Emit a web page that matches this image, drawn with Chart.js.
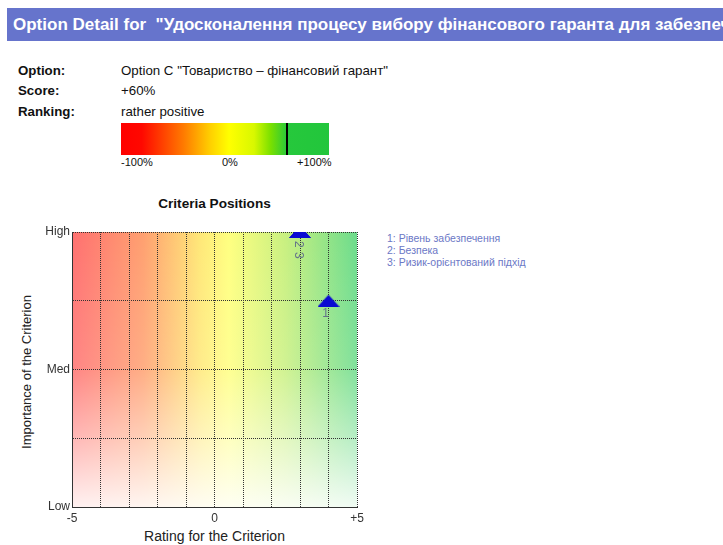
<!DOCTYPE html>
<html>
<head>
<meta charset="utf-8">
<script src="https://cdn.jsdelivr.net/npm/chart.js@4/dist/chart.umd.min.js"></script>
<style>
  html, body { margin:0; padding:0; background:#fff; width:723px; height:545px; overflow:hidden; font-family:"Liberation Sans", Arial, sans-serif; }
  .hdr { position:absolute; left:7px; top:8px; width:730px; height:33px; background:#6674cc; color:#fff; font-weight:bold; font-size:17px; line-height:33px; padding-left:6px; white-space:nowrap; overflow:hidden; box-sizing:border-box; }
  .lbl { position:absolute; left:18px; font-weight:bold; font-size:13.3px; color:#111; }
  .val { position:absolute; left:121px; font-size:13.3px; color:#111; white-space:nowrap; }
  .bar { position:absolute; left:121px; top:123px; width:208px; height:32px;
         background:linear-gradient(to right,#ff0000 0%,#ff0800 10%,#ff7a00 30%,#ffd000 43%,#ffff00 52%,#d8f800 64%,#7ae000 72%,#26c83c 80%,#22c63c 100%); }
  .mark { position:absolute; left:286px; top:123px; width:2px; height:32px; background:#000; }
  .pct { position:absolute; top:156px; font-size:11px; color:#111; }
  .ttl { position:absolute; left:72px; width:285px; top:196px; text-align:center; font-weight:bold; font-size:13.6px; color:#111; }
  .xt { position:absolute; left:72px; width:285px; top:528px; text-align:center; font-size:14px; color:#222; }
  .yt { position:absolute; left:26px; top:372px; font-size:13px; color:#222; white-space:nowrap; transform:translate(-50%,-50%) rotate(-90deg); }
  .leg { position:absolute; left:387px; font-size:10.5px; color:#6b78c6; white-space:nowrap; }
  #wrap { position:absolute; left:0; top:185px; width:380px; height:360px; }
</style>
</head>
<body>
<div class="hdr">Option Detail for &nbsp;"Удосконалення процесу вибору фінансового гаранта для забезпечення</div>
<div class="lbl" style="top:63px">Option:</div>
<div class="val" style="top:63px">Option C "Товариство – фінансовий гарант"</div>
<div class="lbl" style="top:83px">Score:</div>
<div class="val" style="top:83px">+60%</div>
<div class="lbl" style="top:104px">Ranking:</div>
<div class="val" style="top:104px">rather positive</div>
<div class="bar"></div>
<div class="mark"></div>
<div class="pct" style="left:121px">-100%</div>
<div class="pct" style="left:222px">0%</div>
<div class="pct" style="left:297px">+100%</div>
<div class="ttl">Criteria Positions</div>
<div class="yt">Importance of the Criterion</div>
<div class="xt">Rating for the Criterion</div>
<div class="leg" style="top:232px">1: Рівень забезпечення</div>
<div class="leg" style="top:244px">2: Безпека</div>
<div class="leg" style="top:256px">3: Ризик-орієнтований підхід</div>
<div id="wrap"><canvas id="c" width="380" height="360"></canvas></div>
<script>
// ---- data ----
const criteriaNames = ["Рівень забезпечення", "Безпека", "Ризик-орієнтований підхід"];
const criteriaIds = [1, 2, 3];
const ratings = [4, 3, 3];          // Rating for the Criterion (-5..+5)
const importance = [75, 100, 100];  // Importance (Low=0, Med=50, High=100)
const yTickLabels = {0: "Low", 50: "Med", 100: "High"};
const xTickLabels = {"-5": "-5", "0": "0", "5": "+5"};

// flat triangle marker
const tri = document.createElement('canvas');
tri.width = 22; tri.height = 12;
(function(){ const g = tri.getContext('2d'); g.fillStyle = '#0a0ad2';
  g.beginPath(); g.moveTo(11,0); g.lineTo(22,12); g.lineTo(0,12); g.closePath(); g.fill(); })();

const points = ratings.map((r,i) => ({x:r, y:importance[i], id:criteriaIds[i]}));

const bgPlugin = {
  id:'bg',
  beforeDraw(chart){
    const {ctx, chartArea:a} = chart;
    ctx.save();
    const h = ctx.createLinearGradient(a.left,0,a.right,0);
    h.addColorStop(0,'#ff7070');
    h.addColorStop(0.25,'#ffa070');
    h.addColorStop(0.45,'#ffe878');
    h.addColorStop(0.55,'#ffff80');
    h.addColorStop(0.75,'#c8f080');
    h.addColorStop(1,'#6cdc8c');
    ctx.fillStyle = h; ctx.fillRect(a.left,a.top,a.right-a.left,a.bottom-a.top);
    const v = ctx.createLinearGradient(0,a.top,0,a.bottom);
    v.addColorStop(0,'rgba(255,255,255,0)');
    v.addColorStop(0.5,'rgba(255,255,255,0.15)');
    v.addColorStop(0.75,'rgba(255,255,255,0.5)');
    v.addColorStop(1,'rgba(255,255,255,0.9)');
    ctx.fillStyle = v; ctx.fillRect(a.left,a.top,a.right-a.left,a.bottom-a.top);
    ctx.restore();
  }
};

const labelPlugin = {
  id:'ptlabels',
  afterDatasetsDraw(chart){
    const {ctx} = chart;
    const meta = chart.getDatasetMeta(0);
    const groups = {};
    meta.data.forEach((el,i) => {
      const k = points[i].x + '_' + points[i].y;
      (groups[k] = groups[k] || {el, ids:[]}).ids.push(points[i].id);
    });
    ctx.save();
    ctx.font = '12px "Liberation Sans", Arial, sans-serif';
    ctx.fillStyle = '#66758a';
    Object.values(groups).forEach(g => {
      const {x,y} = g.el.getProps(['x','y'], true);
      if (g.ids.length === 1) {
        ctx.textAlign = 'center'; ctx.textBaseline = 'top';
        ctx.fillText(String(g.ids[0]), x-3, y+7);
      } else {
        g.ids.forEach((id,j) => {
          ctx.save();
          ctx.translate(x-2, y+9+j*11);
          ctx.rotate(Math.PI/2);
          ctx.textAlign = 'left'; ctx.textBaseline = 'middle';
          ctx.fillText(String(id), 0, 0);
          ctx.restore();
        });
      }
    });
    ctx.restore();
  }
};

new Chart(document.getElementById('c'), {
  type:'scatter',
  data:{ datasets:[{ data:points, pointStyle:tri, pointRadius:11, pointHoverRadius:11 }] },
  options:{
    responsive:false, animation:false, devicePixelRatio:1,
    layout:{ padding:{left:0, top:47, right:23, bottom:0} },
    plugins:{ legend:{display:false}, tooltip:{enabled:false}, title:{display:false} },
    scales:{
      x:{ type:'linear', min:-5, max:5,
          afterFit(s){ s.height = 38; },
          ticks:{ stepSize:1, autoSkip:false, maxRotation:0, padding:4, color:'#333',
                  font:{size:12, family:'"Liberation Sans", Arial'},
                  callback:v => xTickLabels[String(v)] ?? '' },
          grid:{ color:'#333', lineWidth:1, drawTicks:false },
          border:{ color:'#333', dash:[1,1] } },
      y:{ type:'linear', min:0, max:100,
          afterFit(s){ s.width = 72; },
          ticks:{ stepSize:25, autoSkip:false, padding:2, color:'#333',
                  font:{size:12, family:'"Liberation Sans", Arial'},
                  callback:v => yTickLabels[v] ?? '' },
          grid:{ color:'#333', lineWidth:1, drawTicks:false },
          border:{ color:'#333', dash:[1,1] } }
    }
  },
  plugins:[bgPlugin, labelPlugin]
});
</script>
</body>
</html>
